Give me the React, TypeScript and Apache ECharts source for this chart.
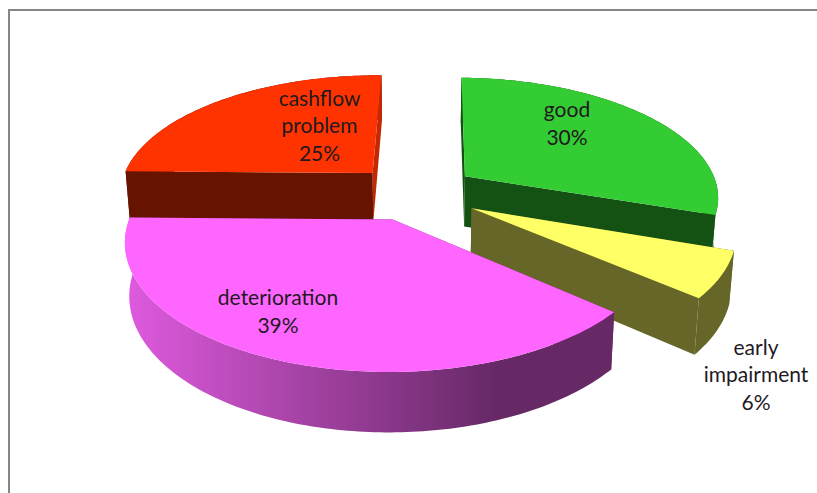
import React, { useEffect, useRef } from "react";
import * as echarts from "echarts";

// Share of loans in each condition, in clockwise order starting near 12 o'clock.
const categories = ["good", "early impairment", "deterioration", "cashflow problem"];
const shares = [30, 6, 39, 25];
const labelLines = [["good"], ["early", "impairment"], ["deterioration"], ["cashflow", "problem"]];

const topColors = ["#33CC33", "#FFFF66", "#FF66FF", "#FF3300"];
const cutColors = ["#145214", "#666629", "#662966", "#661400"];
const farCutColors = ["#145214", "#666629", "#662966", "#C42800"];
const wedgeExplode = [0.25, 0.255, 0.23, 0.24];
const labelAnchors = [
  [567, 122.5],
  [756, 373.5],
  [278, 310.5],
  [319.5, 124.5],
];

// Back-to-front painting order, so nearer wedges overlap farther ones.
const paintOrder = [3, 0, 1, 2];

// Perspective view of the exploded pie.
const view = {
  cx: 414,
  cy: 193,
  scaleX: 254.5,
  scaleY: 119,
  perspective: 0.158,
  depth: 51,
  floorScale: 0.985,
  firstAngle: 270.9,
};

const rad = (deg: number) => (deg * Math.PI) / 180;

function project(X: number, Y: number, floor: boolean): number[] {
  const w = 1 - view.perspective * Y;
  const k = floor ? view.floorScale : 1;
  return [
    view.cx + (k * view.scaleX * X) / w,
    view.cy + (k * view.scaleY * Y + (floor ? view.depth : 0)) / w,
  ];
}

function wedgeGeometry(index: number) {
  const total = shares.reduce((a, b) => a + b, 0);
  const before = shares.slice(0, index).reduce((a, b) => a + b, 0);
  const start = view.firstAngle + (before / total) * 360;
  const sweep = (shares[index] / total) * 360;
  const mid = rad(start + sweep / 2);
  const ox = wedgeExplode[index] * Math.cos(mid);
  const oy = wedgeExplode[index] * Math.sin(mid);
  const steps = Math.max(12, Math.round(sweep));
  const plane: number[][] = [];
  for (let i = 0; i <= steps; i++) {
    const t = rad(start + (sweep * i) / steps);
    plane.push([ox + Math.cos(t), oy + Math.sin(t)]);
  }
  return { ox, oy, plane };
}

function renderWedge(_params: any, api: any) {
  const index = api.value(0) as number;
  const { ox, oy, plane } = wedgeGeometry(index);
  const arcTop = plane.map((p) => project(p[0], p[1], false));
  const arcFloor = plane.map((p) => project(p[0], p[1], true));
  const apexTop = project(ox, oy, false);
  const apexFloor = project(ox, oy, true);
  const n = arcTop.length - 1;

  const face = (points: number[][], fill: any) => ({
    type: "polygon",
    shape: { points },
    style: { fill, stroke: null },
  });

  // The near wedge shows a shaded rim, and its rim hides both cut faces;
  // on the other wedges the cut faces sit in front of the flat rim.
  const isDeterioration = categories[index] === "deterioration";
  const rimFill = isDeterioration
    ? new echarts.graphic.LinearGradient(0, 0, 1, 0, [
        { offset: 0, color: "#DF5ADF" },
        { offset: 0.76, color: "#662966" },
        { offset: 1, color: "#662966" },
      ])
    : cutColors[index];
  const rim = face([...arcTop, ...[...arcFloor].reverse()], rimFill);
  const cuts = [
    face([apexTop, arcTop[n], arcFloor[n], apexFloor], farCutColors[index]),
    face([apexTop, arcTop[0], arcFloor[0], apexFloor], cutColors[index]),
  ];

  const text = [...labelLines[index], `${shares[index]}%`].join("\n");

  return {
    type: "group",
    children: [
      ...(isDeterioration ? [...cuts, rim] : [rim, ...cuts]),
      face([apexTop, ...arcTop], topColors[index]),
      {
        type: "text",
        x: labelAnchors[index][0],
        y: labelAnchors[index][1],
        style: {
          text,
          fill: "#1F1A1F",
          font: '21px Lato, "Open Sans", sans-serif',
          lineHeight: 27.5,
          align: "center",
          verticalAlign: "middle",
        },
      },
    ],
  };
}

export default function App() {
  const ref = useRef<HTMLDivElement | null>(null);

  useEffect(() => {
    if (!ref.current) return;
    const chart = echarts.init(ref.current, undefined, { renderer: "svg" });
    chart.setOption({
      animation: false,
      backgroundColor: "#FFFFFF",
      graphic: [
        {
          type: "polyline",
          silent: true,
          shape: { points: [[9, 493], [9, 10], [817, 10]] },
          style: { stroke: "#868686", lineWidth: 2, fill: "none" },
        },
      ],
      series: [
        {
          type: "custom",
          coordinateSystem: "none",
          silent: true,
          renderItem: renderWedge,
          data: paintOrder.map((i) => ({ name: categories[i], value: [i, shares[i]] })),
        },
      ],
    });
    return () => chart.dispose();
  }, []);

  return (
    <div
      ref={ref}
      style={{ position: "absolute", left: 0, top: 0, width: 817, height: 493 }}
    />
  );
}
